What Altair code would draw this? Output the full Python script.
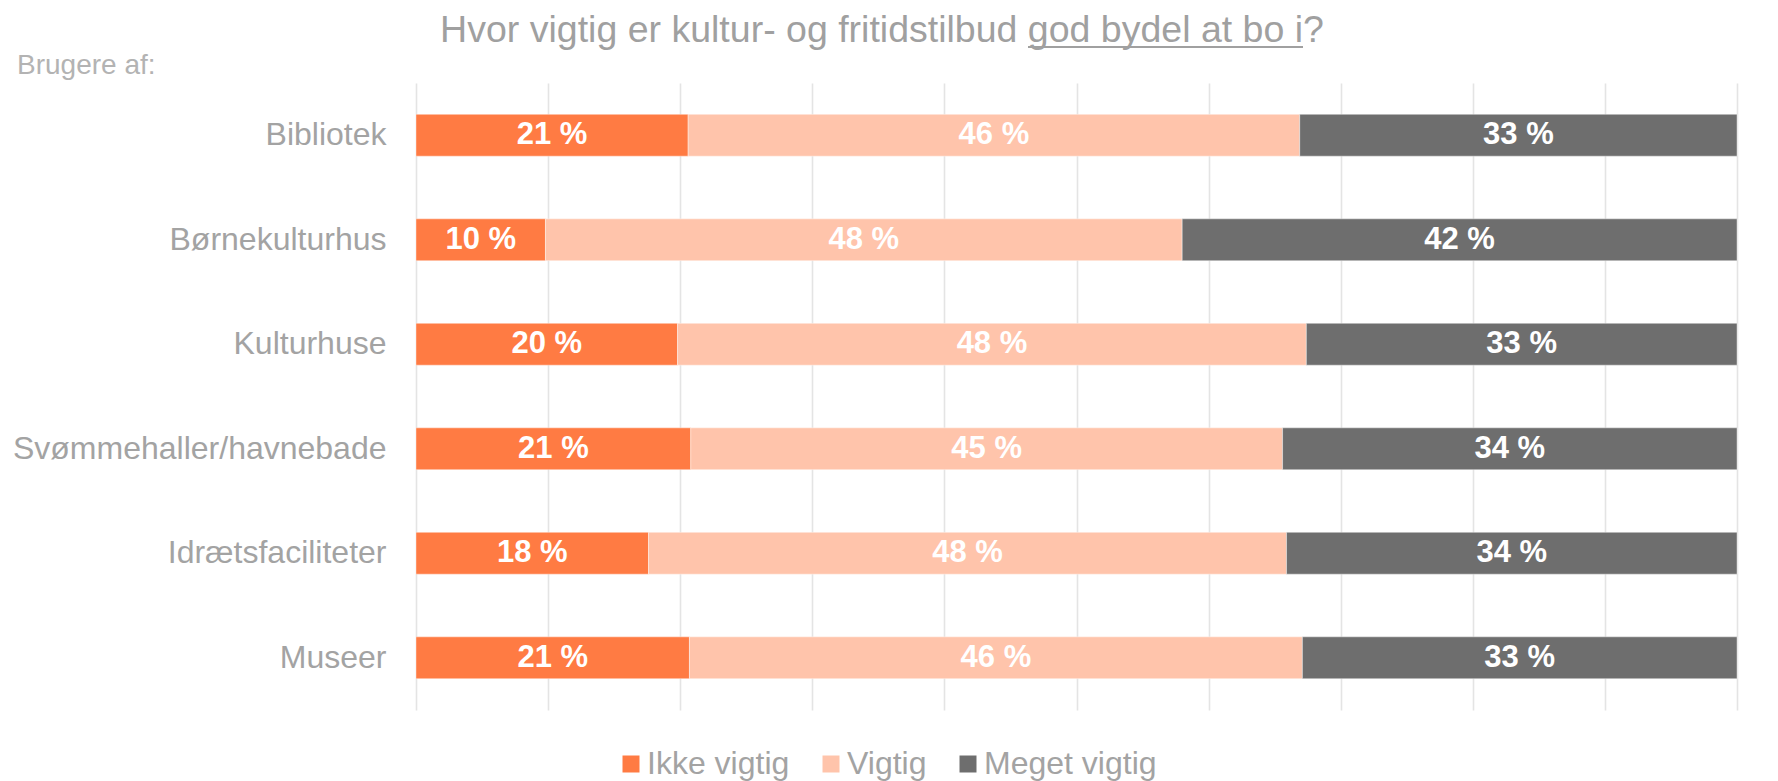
import altair as alt
import pandas as pd

categories = ["Bibliotek", "Børnekulturhus", "Kulturhuse", "Svømmehaller/havnebade", "Idrætsfaciliteter", "Museer"]
levels = ["Ikke vigtig", "Vigtig", "Meget vigtig"]
ikke_vigtig = [20.6, 9.8, 19.8, 20.8, 17.6, 20.7]
vigtig = [46.3, 48.2, 47.6, 44.8, 48.3, 46.4]
meget_vigtig = [33.1, 42.0, 32.6, 34.4, 34.1, 32.9]
colors = ["#FF7B43", "#FFC4AB", "#6E6E6E"]
grid_ticks = [0, 10, 20, 30, 40, 50, 60, 70, 80, 90, 100]
title_text = "Hvor vigtig er kultur- og fritidstilbud god bydel at bo i?"
subtitle_text = "Brugere af:"

rows = []
for i, c in enumerate(categories):
    for j, (lvl, vals) in enumerate(zip(levels, [ikke_vigtig, vigtig, meget_vigtig])):
        v = vals[i]
        rows.append({"cat": c, "level": lvl, "ord": j, "value": v, "label": f"{int(v + 0.5)} %"})
df = pd.DataFrame(rows)

FONT = "Liberation Sans, Arial, Helvetica, sans-serif"
GREY = "#A3A3A3"

y_enc = alt.Y("cat:N", sort=categories,
              scale=alt.Scale(paddingInner=0.6, paddingOuter=0.3),
              axis=alt.Axis(title=None, domain=False, ticks=False, labelPadding=30,
                            labelFontSize=32, labelColor=GREY, labelFont=FONT, labelLimit=600))

bars = alt.Chart(df).mark_bar(stroke="#FFFFFF", strokeWidth=0.4).encode(
    x=alt.X("value:Q", stack="zero",
            scale=alt.Scale(domain=[0, 100], nice=False, zero=True),
            axis=alt.Axis(title=None, labels=False, ticks=False, domain=False, grid=True,
                          values=grid_ticks, gridColor="#E4E4E4", gridWidth=1.6)),
    y=y_enc,
    color=alt.Color("level:N", sort=levels,
                    scale=alt.Scale(domain=levels, range=colors),
                    legend=alt.Legend(orient="none", legendX=199, legendY=665, direction="horizontal",
                                      title=None, symbolType="square", symbolSize=289,
                                      symbolStrokeWidth=0, symbolOpacity=1,
                                      labelFontSize=32, labelColor=GREY, labelFont=FONT,
                                      labelLimit=400, columnPadding=25, labelOffset=0, padding=0)),
    order=alt.Order("ord:Q"),
)

labels = alt.Chart(df).transform_stack(
    stack="value", groupby=["cat"], as_=["x0", "x1"], sort=[alt.SortField("ord", order="ascending")]
).transform_calculate(
    mid="(datum.x0 + datum.x1) / 2"
).mark_text(color="white", fontWeight="bold", fontSize=31, font=FONT, baseline="middle", align="center").encode(
    x=alt.X("mid:Q"),
    y=alt.Y("cat:N", sort=categories),
    text="label:N",
)

title = alt.Chart(pd.DataFrame({"t": [title_text]})).mark_text(
    align="center", baseline="alphabetic", fontSize=37.5, color="#A0A0A0", font=FONT
).encode(x=alt.value(466), y=alt.value(-41.5), text="t:N")

sub = alt.Chart(pd.DataFrame({"t": [subtitle_text]})).mark_text(
    align="left", baseline="alphabetic", fontSize=28, color="#B3B3B3", font=FONT
).encode(x=alt.value(-399), y=alt.value(-9), text="t:N")

underline = alt.Chart(pd.DataFrame({"a": [0]})).mark_rule(color="#A0A0A0", strokeWidth=2).encode(
    x=alt.value(612), x2=alt.value(887), y=alt.value(-36)
)

chart = alt.layer(bars, labels, title, sub, underline).properties(
    width=1321, height=627,
    autosize=alt.AutoSizeParams(type="none"),
    padding={"left": 408, "top": 75, "right": 33, "bottom": 71},
).configure_view(stroke=None)

chart.save("out.html", embed_options={"renderer": "svg", "actions": False})
